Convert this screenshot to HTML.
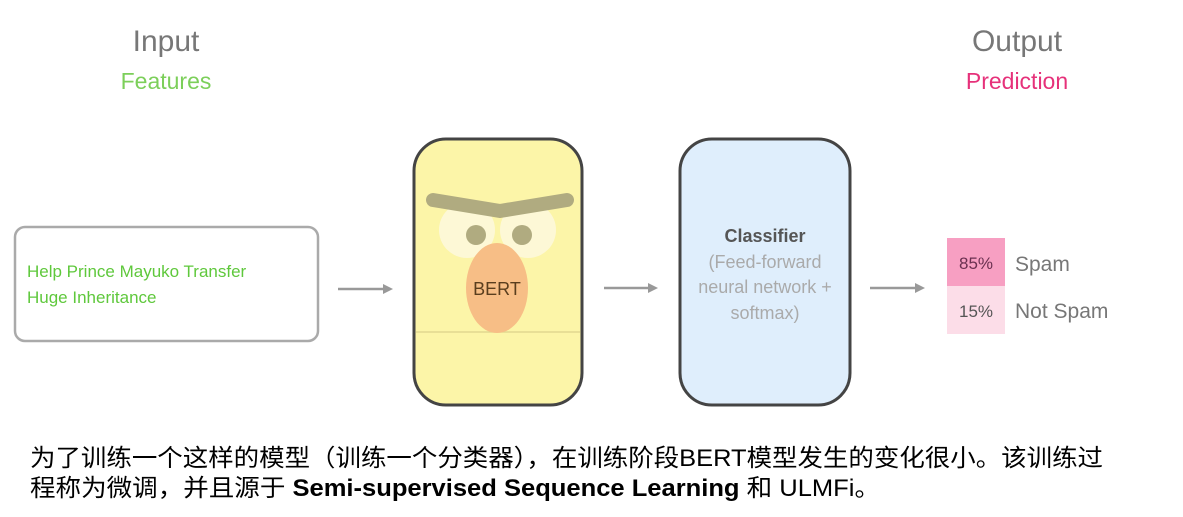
<!DOCTYPE html>
<html><head><meta charset="utf-8"><style>
html,body{margin:0;padding:0;background:#fff;}
svg{display:block;}
text{font-family:"Liberation Sans","Noto Sans CJK SC",sans-serif;}
</style></head><body>
<svg width="1183" height="517" viewBox="0 0 1183 517" xmlns="http://www.w3.org/2000/svg">
<text x="166" y="51" font-size="30" fill="#777" text-anchor="middle">Input</text>
<text x="166" y="89" font-size="23" fill="#7ccf5a" text-anchor="middle">Features</text>
<text x="1017" y="51" font-size="30" fill="#777" text-anchor="middle">Output</text>
<text x="1017" y="89" font-size="23" fill="#e6317a" text-anchor="middle">Prediction</text>

<rect x="15" y="227" width="303" height="114" rx="10" fill="#fff" stroke="#aaa" stroke-width="2.5"/>
<text x="27" y="277" font-size="17" fill="#5fc83c">Help Prince Mayuko Transfer</text>
<text x="27" y="303" font-size="17" fill="#5fc83c">Huge Inheritance</text>

<g stroke="#999" stroke-width="2.5" fill="#999">
<line x1="338" y1="289" x2="385" y2="289"/><polygon points="393,289 383,284 383,294" stroke="none"/>
<line x1="604" y1="288" x2="650" y2="288"/><polygon points="658,288 648,283 648,293" stroke="none"/>
<line x1="870" y1="288" x2="917" y2="288"/><polygon points="925,288 915,283 915,293" stroke="none"/>
</g>

<rect x="414" y="139" width="168" height="266" rx="32" fill="#fcf5a8" stroke="#444" stroke-width="3"/>
<line x1="416" y1="332" x2="580" y2="332" stroke="#e2d890" stroke-width="1.5"/>
<circle cx="467" cy="230" r="28" fill="#fdf8d6"/>
<circle cx="528" cy="230" r="28" fill="#fdf8d6"/>
<polyline points="433,200 500,211 567,200" fill="none" stroke="#b0ab80" stroke-width="14" stroke-linecap="round" stroke-linejoin="round"/>
<circle cx="476" cy="235" r="10" fill="#b0ab80"/>
<circle cx="522" cy="235" r="10" fill="#b0ab80"/>
<ellipse cx="497" cy="288" rx="31" ry="45" fill="#f7be86"/>
<text x="497" y="295" font-size="18" fill="#5a3e1e" text-anchor="middle">BERT</text>

<rect x="680" y="139" width="170" height="266" rx="32" fill="#dfeefc" stroke="#444" stroke-width="3"/>
<text x="765" y="242" font-size="18" fill="#555" font-weight="bold" text-anchor="middle">Classifier</text>
<text x="765" y="268" font-size="18" fill="#aaa" text-anchor="middle">(Feed-forward</text>
<text x="765" y="293" font-size="18" fill="#aaa" text-anchor="middle">neural network +</text>
<text x="765" y="319" font-size="18" fill="#aaa" text-anchor="middle">softmax)</text>

<rect x="947" y="238" width="58" height="48" fill="#f79fc2"/>
<rect x="947" y="286" width="58" height="48" fill="#fcdde8"/>
<text x="976" y="269" font-size="17" fill="#6a3050" text-anchor="middle">85%</text>
<text x="976" y="317" font-size="17" fill="#555" text-anchor="middle">15%</text>
<text x="1015" y="271" font-size="21" fill="#777">Spam</text>
<text x="1015" y="318" font-size="21" fill="#777">Not Spam</text>

<text x="30" y="466" font-size="24" fill="#000" textLength="1073" lengthAdjust="spacingAndGlyphs">为了训练一个这样的模型（训练一个分类器），在训练阶段BERT模型发生的变化很小。该训练过</text>
<text x="30" y="496" font-size="24" fill="#000" textLength="850" lengthAdjust="spacingAndGlyphs">程称为微调，并且源于 <tspan font-weight="bold">Semi-supervised Sequence Learning</tspan> 和 ULMFi。</text>
</svg>
</body></html>
